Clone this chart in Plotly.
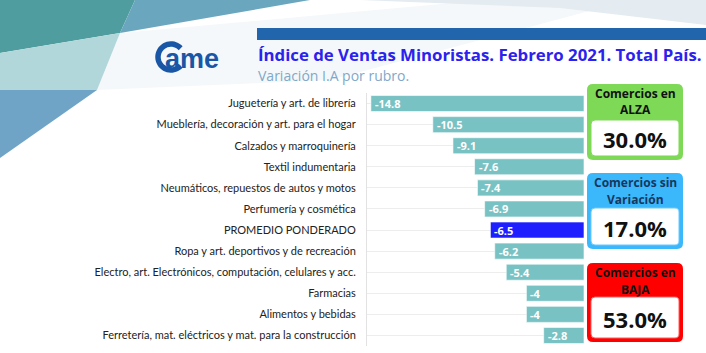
import numpy as np
import plotly.graph_objects as go

# ---------------- data ----------------
categories = [
    "Juguetería y art. de librería",
    "Mueblería, decoración y art. para el hogar",
    "Calzados y marroquinería",
    "Textil indumentaria",
    "Neumáticos, repuestos de autos y motos",
    "Perfumería y cosmética",
    "PROMEDIO PONDERADO",
    "Ropa y art. deportivos y de recreación",
    "Electro, art. Electrónicos, computación, celulares y acc.",
    "Farmacias",
    "Alimentos y bebidas",
    "Ferretería, mat. eléctricos y mat. para la construcción",
]
values = [-14.8, -10.5, -9.1, -7.6, -7.4, -6.9, -6.5, -6.2, -5.4, -4, -4, -2.8]
value_labels = ["-14.8", "-10.5", "-9.1", "-7.6", "-7.4", "-6.9", "-6.5",
                "-6.2", "-5.4", "-4", "-4", "-2.8"]
highlight = "PROMEDIO PONDERADO"

box_titles = [["Comercios en", "ALZA"], ["Comercios sin", "Variación"], ["Comercios en", "BAJA"]]
box_values = [30.0, 17.0, 53.0]

title_text = "Índice de Ventas Minoristas. Febrero 2021. Total País."
subtitle_text = "Variación I.A por rubro."

# ---------------- geometry ----------------
W, H = 706, 353
ML, MR, MT, MB = 367, 122, 93, 7
PW, PH = W - ML - MR, H - MT - MB


def px(x):
    return (x - ML) / PW


def py(y):
    return (H - MB - y) / PH


def poly(points):
    return "M " + " L ".join(f"{px(x):.5f},{py(y):.5f}" for x, y in points) + " Z"


def rrect(x0, y0, x1, y1, r):
    d = f"M {px(x0 + r):.5f},{py(y0):.5f} "
    d += f"L {px(x1 - r):.5f},{py(y0):.5f} "
    d += f"Q {px(x1):.5f},{py(y0):.5f} {px(x1):.5f},{py(y0 + r):.5f} "
    d += f"L {px(x1):.5f},{py(y1 - r):.5f} "
    d += f"Q {px(x1):.5f},{py(y1):.5f} {px(x1 - r):.5f},{py(y1):.5f} "
    d += f"L {px(x0 + r):.5f},{py(y1):.5f} "
    d += f"Q {px(x0):.5f},{py(y1):.5f} {px(x0):.5f},{py(y1 - r):.5f} "
    d += f"L {px(x0):.5f},{py(y0 + r):.5f} "
    d += f"Q {px(x0):.5f},{py(y0):.5f} {px(x0 + r):.5f},{py(y0):.5f} Z"
    return d


def note(x, y, text, size, color, family="Open Sans", xanchor="left"):
    return dict(x=px(x), y=py(y), xref="paper", yref="paper", text=text,
                showarrow=False, xanchor=xanchor, yanchor="middle",
                font=dict(family=family, size=size, color=color))


colors = ["#1e1eff" if c == highlight else "#79c2c4" for c in categories]

fig = go.Figure()
fig.add_trace(go.Bar(
    y=categories, x=values, orientation="h",
    marker=dict(color=colors, line=dict(color="rgba(255,255,255,0.6)", width=1)),
    hoverinfo="skip", showlegend=False,
))

shapes = []
annotations = []

# bar value labels
for c, v, t in zip(categories, values, value_labels):
    annotations.append(dict(
        x=v, y=c, xref="x", yref="y", text=f"<b>{t}</b>", showarrow=False,
        xanchor="left", yanchor="middle", xshift=2,
        font=dict(family="Open Sans", size=11, color="white"),
    ))

# background decorations
bg = [
    ([(120, 33), (706, -20), (330, 80), (97, 90)], "#f5f8fa"),
    ([(0, 0), (135, 0), (120, 33), (0, 53)], "#4f9d9f"),
    ([(135, 0), (310, 0), (120, 33)], "#6aa7bf"),
    ([(0, 53), (120, 33), (97, 90), (0, 90)], "#b2d7da"),
    ([(0, 90), (97, 90), (0, 158)], "#6fa4c6"),
    ([(360, 0), (706, 0), (706, 25), (560, 8)], "#e4ecf1"),
]
for pts, col in bg:
    shapes.append(dict(type="path", xref="paper", yref="paper", path=poly(pts),
                       fillcolor=col, line=dict(width=0), layer="below"))

# header bar
shapes.append(dict(type="rect", xref="paper", yref="paper",
                   x0=px(257), x1=px(706), y0=py(40), y1=py(28),
                   fillcolor="#2166ac", line=dict(width=0), layer="below"))

# logo: C ring
ang = np.linspace(np.deg2rad(42), np.deg2rad(318), 40)
cx, cy = 171, 57
r = 13
pts = [(cx + r * np.cos(a), cy - r * np.sin(a)) for a in ang]
d = "M " + " L ".join(f"{px(x):.5f},{py(y):.5f}" for x, y in pts)
shapes.append(dict(type="path", xref="paper", yref="paper", path=d,
                   line=dict(color="#1a56a6", width=5.5)))
annotations.append(note(163, 59, "<b>ame</b>", 27, "#1a56a6", family="Liberation Sans"))

# titles
annotations.append(note(256, 55, f"<b>{title_text}</b>", 16.8, "#2a22ee"))
annotations.append(note(256, 75, subtitle_text, 14, "#7fa8c9"))

# right boxes
box_geo = [
    (84, 160, 120, "#7ed957", "#7ed957", "#111111"),
    (173, 249, 208, "#3bb7fb", "#6cc9ff", "#17375e"),
    (263, 342, 297, "#ff0000", "#ff5c5c", "#111111"),
]
for (y0, y1, yi, fillc, borderc, tcol), t, v in zip(box_geo, box_titles, box_values):
    shapes.append(dict(type="path", xref="paper", yref="paper",
                       path=rrect(587, y0, 683, y1, 6), fillcolor=fillc,
                       line=dict(width=0)))
    shapes.append(dict(type="path", xref="paper", yref="paper",
                       path=rrect(591, yi, 679, y1 - 4, 4), fillcolor="white",
                       line=dict(color=borderc, width=1)))
    annotations.append(note(635, y0 + 9, f"<b>{t[0]}</b>", 12, tcol, xanchor="center"))
    annotations.append(note(635, y0 + 26, f"<b>{t[1]}</b>", 12, tcol, xanchor="center"))
    annotations.append(note(635, (yi + y1 - 4) / 2 + 1, f"<b>{v:.1f}%</b>", 22,
                            "#111111", xanchor="center"))

fig.update_layout(
    width=W, height=H,
    margin=dict(l=ML, r=MR, t=MT, b=MB),
    paper_bgcolor="white", plot_bgcolor="rgba(0,0,0,0)",
    bargap=0.24,
    shapes=shapes, annotations=annotations,
    xaxis=dict(range=[-15.07, 0], visible=False, fixedrange=True),
    yaxis=dict(autorange="reversed", showgrid=True, gridcolor="#ededed", gridwidth=1,
               showline=True, linecolor="#e2e2e2", linewidth=1,
               ticks="", ticklabelstandoff=8,
               tickfont=dict(family="Lato", size=11, color="#222222")),
)

fig.write_html("out.html")
